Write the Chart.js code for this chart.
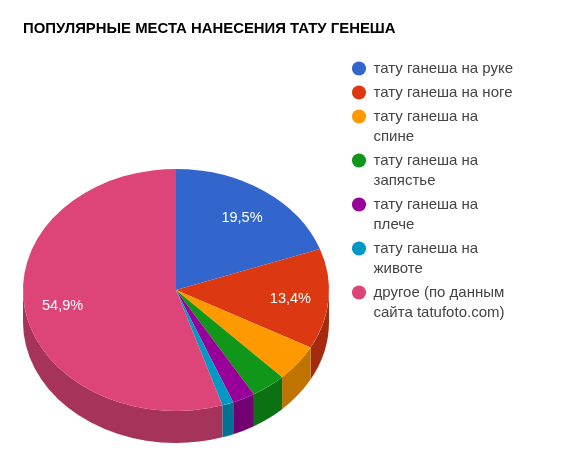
<!DOCTYPE html>
<html>
<head>
<meta charset="utf-8">
<style>
html, body { margin: 0; padding: 0; background: #fff; }
#wrap { width: 561px; height: 465px; }
</style>
<script src="https://cdn.jsdelivr.net/npm/chart.js@4"></script>
</head>
<body>
<div id="wrap"><canvas id="chart" width="561" height="465"></canvas></div>
<script>
var titleText = 'ПОПУЛЯРНЫЕ МЕСТА НАНЕСЕНИЯ ТАТУ ГЕНЕША';
var categories = [
    ['тату ганеша на руке'],
    ['тату ганеша на ноге'],
    ['тату ганеша на', 'спине'],
    ['тату ганеша на', 'запястье'],
    ['тату ганеша на', 'плече'],
    ['тату ганеша на', 'животе'],
    ['другое (по данным', 'сайта tatufoto.com)']
];
var shares = [19.5, 13.4, 4.9, 3.7, 2.4, 1.2, 54.9];
var topColors = ['#3366cc', '#dc3912', '#ff9900', '#109618', '#990099', '#0099c6', '#dd4477'];
var sideColors = ['#264d99', '#a52b0e', '#bf7300', '#0c7112', '#730073', '#007394', '#a63359'];

var font = 'Arial, "Liberation Sans", sans-serif';
var radiusY = 121;
var depth = 32;

function squash(ctx, chart) {
    var arc = chart.getDatasetMeta(0).data[0];
    ctx.translate(arc.x, arc.y);
    ctx.scale(1, radiusY / arc.outerRadius);
    ctx.translate(-arc.x, -arc.y);
}

// chart.js has no 3d pie, so squash the arcs and paint the rim under them
var pie3d = {
    id: 'pie3d',
    afterLayout: function (chart) {
        var area = chart.chartArea;
        area.left = 23; area.right = 329; area.top = 137; area.bottom = 443;
        area.width = 306; area.height = 306;
        var lg = chart.legend;
        lg.left = 348; lg.right = 552; lg.top = 57; lg.bottom = 330;
        var tt = chart.titleBlock;
        tt.left = 23; tt.right = 500; tt.top = 20; tt.bottom = 39;
    },
    beforeDatasetsDraw: function (chart) {
        var ctx = chart.ctx;
        chart.getDatasetMeta(0).data.forEach(function (arc, i) {
            var from = Math.max(arc.startAngle, 0);
            var to = Math.min(arc.endAngle, Math.PI);
            if (to <= from) return;
            var rx = arc.outerRadius;
            ctx.beginPath();
            ctx.ellipse(arc.x, arc.y, rx, radiusY, 0, from, to);
            ctx.ellipse(arc.x, arc.y + depth, rx, radiusY, 0, to, from, true);
            ctx.closePath();
            ctx.fillStyle = sideColors[i];
            ctx.fill();
        });
        ctx.save();
        squash(ctx, chart);
    },
    afterDatasetsDraw: function (chart) {
        var ctx = chart.ctx;
        ctx.restore();
        ctx.font = '14.5px ' + font;
        ctx.fillStyle = '#ffffff';
        ctx.textAlign = 'center';
        ctx.textBaseline = 'middle';
        chart.getDatasetMeta(0).data.forEach(function (arc, i) {
            if (shares[i] < 10) return;
            var mid = (arc.startAngle + arc.endAngle) / 2;
            var x = arc.x + Math.cos(mid) * arc.outerRadius * 0.75;
            var y = arc.y + Math.sin(mid) * radiusY * 0.75 + 2;
            ctx.fillText(String(shares[i]).replace('.', ',') + '%', x, y);
        });
    }
};

new Chart(document.getElementById('chart').getContext('2d'), {
    type: 'pie',
    data: {
        labels: categories,
        datasets: [{
            data: shares,
            backgroundColor: topColors,
            borderWidth: 0
        }]
    },
    options: {
        responsive: false,
        animation: false,
        plugins: {
            title: {
                display: true,
                text: titleText,
                align: 'start',
                color: '#000000',
                padding: 0,
                font: { family: font, size: 14.9, weight: 'bold', lineHeight: 1.2 }
            },
            legend: {
                position: 'right',
                align: 'start',
                labels: {
                    usePointStyle: true,
                    boxWidth: 14,
                    boxHeight: 10,
                    padding: 4,
                    color: '#444444',
                    font: { family: font, size: 15, lineHeight: 20 / 15 }
                }
            },
            tooltip: { enabled: false }
        }
    },
    plugins: [pie3d]
});
</script>
</body>
</html>
